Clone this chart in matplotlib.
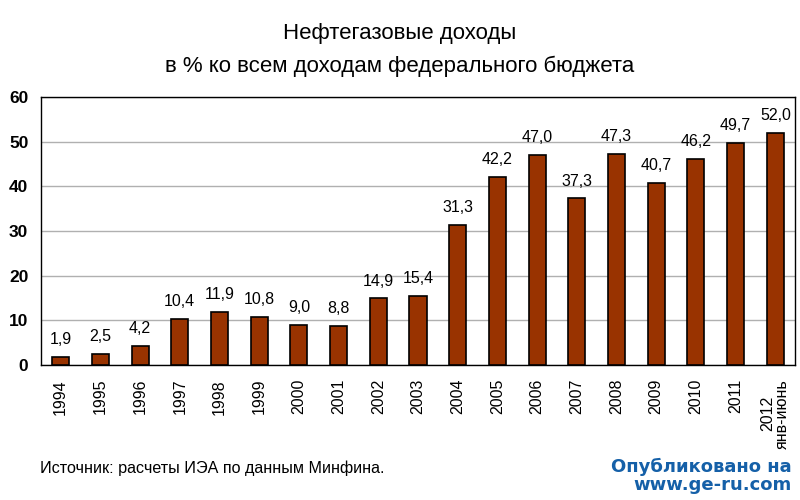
import matplotlib
matplotlib.use("Agg")
import matplotlib.pyplot as plt

plt.rcParams['font.family'] = ['Liberation Sans', 'DejaVu Sans']

years = ["1994", "1995", "1996", "1997", "1998", "1999", "2000", "2001", "2002", "2003",
         "2004", "2005", "2006", "2007", "2008", "2009", "2010", "2011", "2012\nянв-июнь"]
values = [1.9, 2.5, 4.2, 10.4, 11.9, 10.8, 9.0, 8.8, 14.9, 15.4,
          31.3, 42.2, 47.0, 37.3, 47.3, 40.7, 46.2, 49.7, 52.0]
yticks = [0, 10, 20, 30, 40, 50, 60]

fig = plt.figure(figsize=(8, 5), dpi=100)
ax = fig.add_axes([0.051, 0.27, 0.943, 0.536])

x = list(range(len(values)))
ax.bar(x, values, width=0.43, color="#993300", edgecolor="black", linewidth=1.2, zorder=3)
for xi, v in zip(x, values):
    ax.text(xi, v + 2.2, f"{v:.1f}".replace(".", ","), ha="center", va="bottom", fontsize=11.5, color="black")

ax.set_xlim(-0.5, len(values) - 0.5)
ax.set_ylim(0, 60)
ax.set_yticks(yticks)
ax.set_yticklabels([str(t) for t in yticks], fontsize=12.5, fontweight="bold")
ax.yaxis.grid(True, color="#b0b0b0", linewidth=1, zorder=0)
ax.set_xticks(x)
ax.set_xticklabels(years, rotation=90, fontsize=11.5, va="top", ha="center", linespacing=1.0)
ax.tick_params(axis="x", length=0, pad=10)
ax.tick_params(axis="y", length=0, pad=9)
for s in ["top", "right", "left", "bottom"]:
    ax.spines[s].set_color("black")
    ax.spines[s].set_linewidth(1)

fig.text(0.5, 0.934, "Нефтегазовые доходы", ha="center", va="center", fontsize=16)
fig.text(0.5, 0.868, "в % ко всем доходам федерального бюджета", ha="center", va="center", fontsize=16)
fig.text(0.05, 0.064, "Источник: расчеты ИЭА по данным Минфина.", ha="left", va="center", fontsize=11.6)
fig.text(0.99, 0.048, "Опубликовано на\nwww.ge-ru.com", ha="right", va="center", fontsize=13,
         fontweight="bold", color="#1560a8", linespacing=0.95,
         family=['DejaVu Sans'])

fig.savefig("out.png", dpi=100)
